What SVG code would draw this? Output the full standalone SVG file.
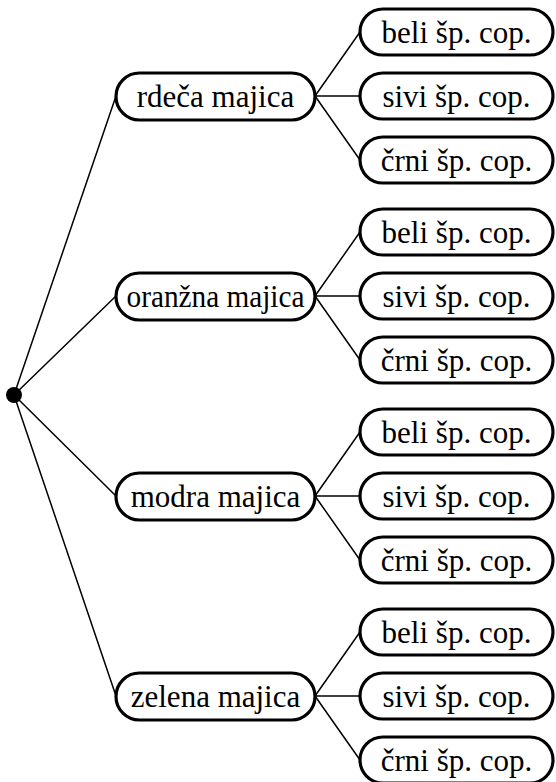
<svg xmlns="http://www.w3.org/2000/svg" width="556" height="782" viewBox="0 0 556 782">
<style>
.box{fill:#fff;stroke:#000;stroke-width:3.2}
.t{font-family:"Liberation Serif","Times New Roman",serif;font-size:31px;fill:#000;text-anchor:middle}
.ln{stroke:#000;stroke-width:1.5;fill:none}
</style>
<rect width="556" height="782" fill="#fff"/>
<g id="connectors">
<path class="ln" d="M14 395L116 96M14 395L116 296M14 395L116 496M14 395L116 696"/>
<path class="ln" d="M315 96L360 32M315 96L360 96M315 96L360 160"/>
<path class="ln" d="M315 296L360 232M315 296L360 296M315 296L360 360"/>
<path class="ln" d="M315 496L360 432M315 496L360 496M315 496L360 560"/>
<path class="ln" d="M315 696L360 632M315 696L360 696M315 696L360 760"/>
</g>
<g id="root"><circle cx="14" cy="395" r="8" fill="#000"/></g>
<g id="rdeca"><rect class="box" x="116" y="73" width="199" height="47" rx="23.5"/><text class="t" x="215.5" y="107">rdeča majica</text></g>
<g id="oranzna"><rect class="box" x="116" y="273" width="199" height="47" rx="23.5"/><text class="t" x="215.5" y="307" textLength="178" lengthAdjust="spacingAndGlyphs">oranžna majica</text></g>
<g id="modra"><rect class="box" x="116" y="473" width="199" height="47" rx="23.5"/><text class="t" x="215.5" y="507">modra majica</text></g>
<g id="zelena"><rect class="box" x="116" y="673" width="199" height="47" rx="23.5"/><text class="t" x="215.5" y="707">zelena majica</text></g>
<g id="r1"><rect class="box" x="360" y="9" width="193" height="46" rx="23"/><text class="t" x="456.5" y="43">beli šp. cop.</text></g>
<g id="r2"><rect class="box" x="360" y="73" width="193" height="46" rx="23"/><text class="t" x="456.5" y="107">sivi šp. cop.</text></g>
<g id="r3"><rect class="box" x="360" y="137" width="193" height="46" rx="23"/><text class="t" x="456.5" y="171">črni šp. cop.</text></g>
<g id="o1"><rect class="box" x="360" y="209" width="193" height="46" rx="23"/><text class="t" x="456.5" y="243">beli šp. cop.</text></g>
<g id="o2"><rect class="box" x="360" y="273" width="193" height="46" rx="23"/><text class="t" x="456.5" y="307">sivi šp. cop.</text></g>
<g id="o3"><rect class="box" x="360" y="337" width="193" height="46" rx="23"/><text class="t" x="456.5" y="371">črni šp. cop.</text></g>
<g id="m1"><rect class="box" x="360" y="409" width="193" height="46" rx="23"/><text class="t" x="456.5" y="443">beli šp. cop.</text></g>
<g id="m2"><rect class="box" x="360" y="473" width="193" height="46" rx="23"/><text class="t" x="456.5" y="507">sivi šp. cop.</text></g>
<g id="m3"><rect class="box" x="360" y="537" width="193" height="46" rx="23"/><text class="t" x="456.5" y="571">črni šp. cop.</text></g>
<g id="z1"><rect class="box" x="360" y="609" width="193" height="46" rx="23"/><text class="t" x="456.5" y="643">beli šp. cop.</text></g>
<g id="z2"><rect class="box" x="360" y="673" width="193" height="46" rx="23"/><text class="t" x="456.5" y="707">sivi šp. cop.</text></g>
<g id="z3"><rect class="box" x="360" y="737" width="193" height="46" rx="23"/><text class="t" x="456.5" y="771">črni šp. cop.</text></g>
</svg>
